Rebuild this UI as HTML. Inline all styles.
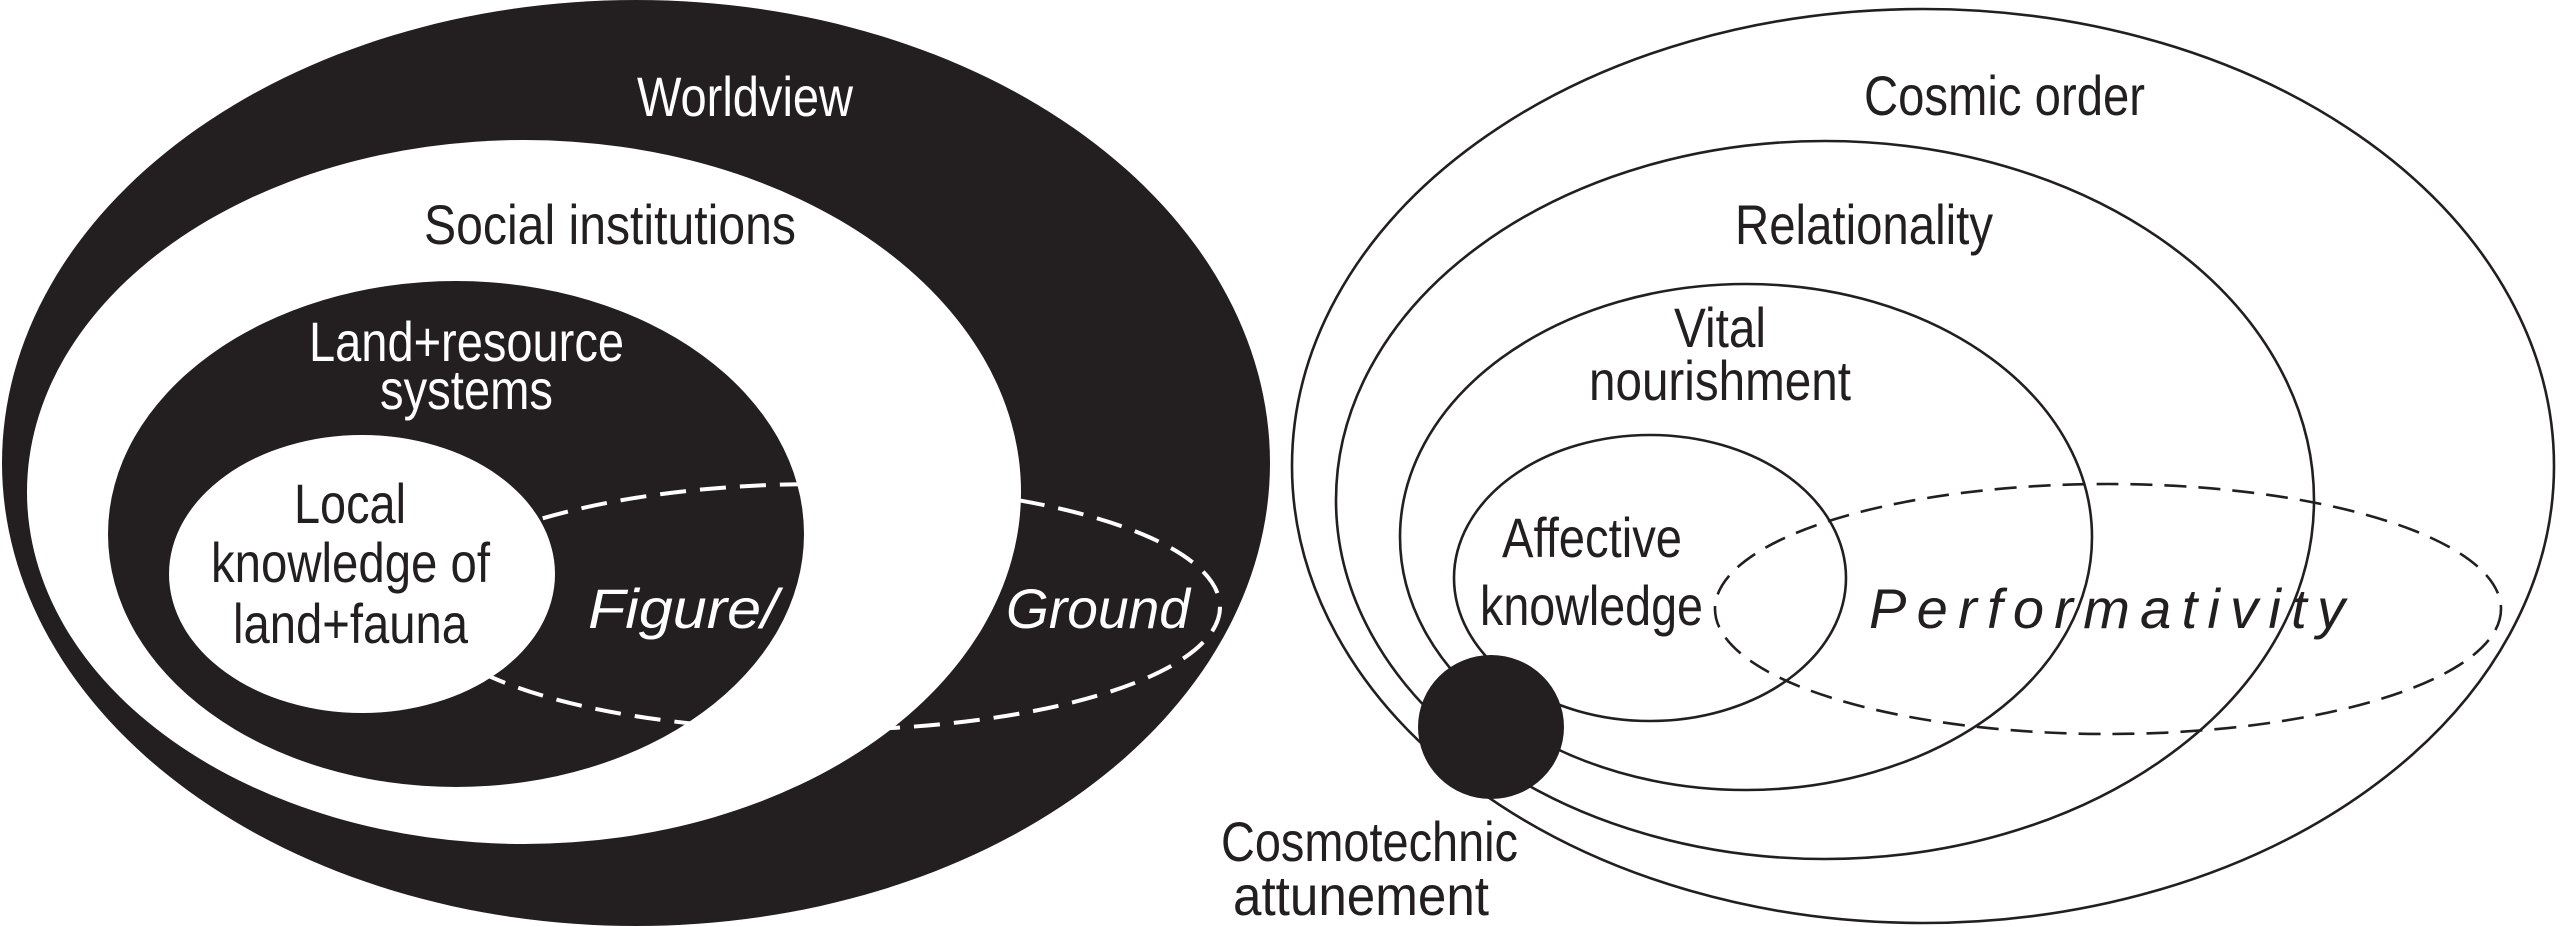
<!DOCTYPE html>
<html><head><meta charset="utf-8"><style>
html,body{margin:0;padding:0;background:#fff;}
svg{display:block;}
text{font-family:"Liberation Sans",sans-serif;font-size:56px;}
</style></head><body>
<svg width="2560" height="927" viewBox="0 0 2560 927" xmlns="http://www.w3.org/2000/svg">
<rect width="2560" height="927" fill="#fff"/>
<!-- Left diagram -->
<ellipse cx="636" cy="463" rx="634" ry="463" fill="#231f20"/>
<ellipse cx="524" cy="492" rx="497" ry="352" fill="#fff"/>
<ellipse cx="456" cy="534" rx="348" ry="253" fill="#231f20"/>
<ellipse cx="362" cy="574" rx="193" ry="139" fill="#fff"/>
<ellipse cx="820" cy="607" rx="400" ry="123" fill="none" stroke="#fff" stroke-width="4" stroke-dasharray="26 14"/>
<g fill="#fff">
<text x="637" y="116" textLength="216" lengthAdjust="spacingAndGlyphs">Worldview</text>
<text x="424" y="244" textLength="372" lengthAdjust="spacingAndGlyphs" fill="#231f20">Social institutions</text>
<text x="309" y="361" textLength="315" lengthAdjust="spacingAndGlyphs">Land+resource</text>
<text x="380" y="409" textLength="173" lengthAdjust="spacingAndGlyphs">systems</text>
<text x="294" y="523" textLength="112" lengthAdjust="spacingAndGlyphs" fill="#231f20">Local</text>
<text x="211" y="582" textLength="279" lengthAdjust="spacingAndGlyphs" fill="#231f20">knowledge of</text>
<text x="233" y="643" textLength="235" lengthAdjust="spacingAndGlyphs" fill="#231f20">land+fauna</text>
<text x="588" y="628" textLength="190" lengthAdjust="spacingAndGlyphs" font-style="italic">Figure/</text>
<text x="1006" y="628" textLength="184" lengthAdjust="spacingAndGlyphs" font-style="italic">Ground</text>
</g>
<!-- Right diagram -->
<g fill="none" stroke="#231f20" stroke-width="2.6">
<ellipse cx="1923" cy="466" rx="631" ry="457"/>
<ellipse cx="1825" cy="500" rx="489" ry="359"/>
<ellipse cx="1746" cy="537" rx="346" ry="253"/>
<ellipse cx="1650" cy="578" rx="196" ry="143"/>
<ellipse cx="2108" cy="609" rx="393" ry="125" stroke-dasharray="22 12"/>
</g>
<ellipse cx="1491" cy="727" rx="73" ry="72" fill="#231f20"/>
<g fill="#231f20">
<text x="1864" y="115" textLength="281" lengthAdjust="spacingAndGlyphs">Cosmic order</text>
<text x="1735" y="244" textLength="258" lengthAdjust="spacingAndGlyphs">Relationality</text>
<text x="1674" y="347" textLength="92" lengthAdjust="spacingAndGlyphs">Vital</text>
<text x="1589" y="400" textLength="262" lengthAdjust="spacingAndGlyphs">nourishment</text>
<text x="1502" y="557" textLength="180" lengthAdjust="spacingAndGlyphs">Affective</text>
<text x="1480" y="625" textLength="223" lengthAdjust="spacingAndGlyphs">knowledge</text>
<text x="1869" y="628" textLength="476" lengthAdjust="spacing" font-style="italic">Performativity</text>
<text x="1221" y="861" textLength="297" lengthAdjust="spacingAndGlyphs">Cosmotechnic</text>
<text x="1233" y="915" textLength="256" lengthAdjust="spacingAndGlyphs">attunement</text>
</g>
</svg>
</body></html>
